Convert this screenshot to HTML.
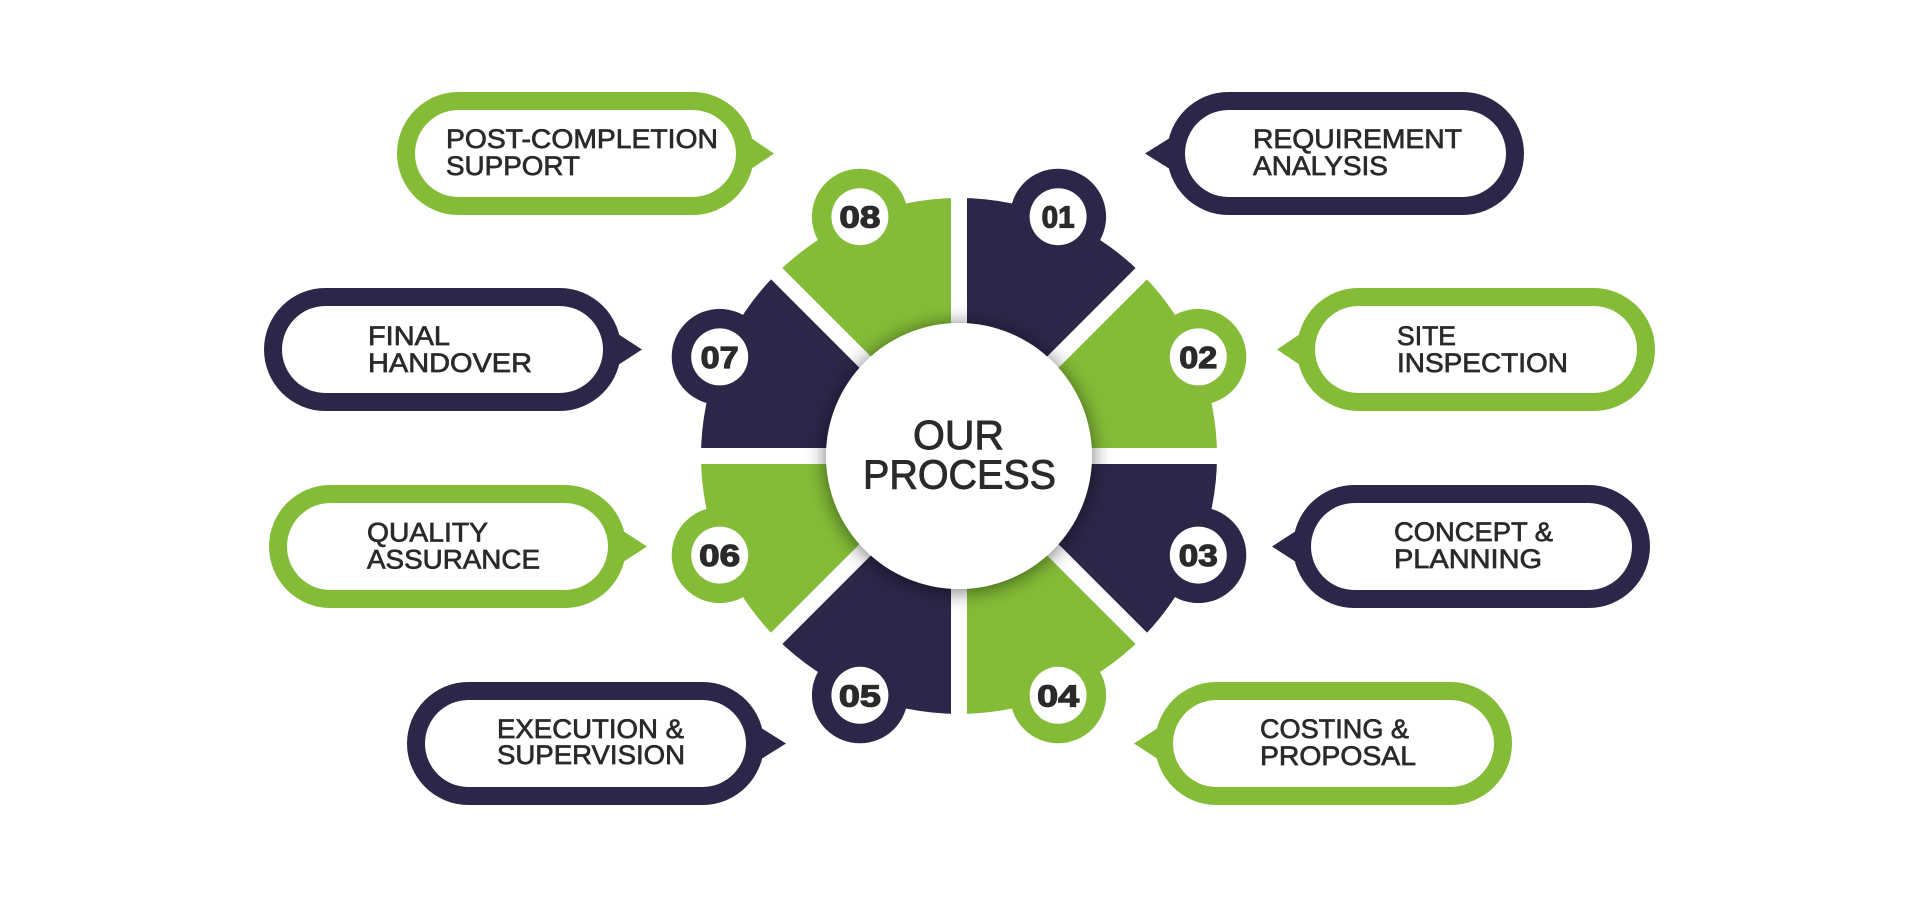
<!DOCTYPE html>
<html>
<head>
<meta charset="utf-8">
<style>
  html, body { margin: 0; padding: 0; background: #ffffff; }
  body { width: 1919px; height: 897px; overflow: hidden; }
  svg { display: block; }
  .lbl { font-family: "Liberation Sans", "DejaVu Sans", sans-serif; font-size: 26.5px; fill: #2a2a2a; stroke: #2a2a2a; stroke-width: 0.7px; }
  .num { font-family: "Liberation Sans", "DejaVu Sans", sans-serif; font-weight: bold; font-size: 31px; fill: #2a2a2a; stroke: #2a2a2a; stroke-width: 1.2px; }
  .title { font-family: "Liberation Sans", "DejaVu Sans", sans-serif; font-size: 41px; fill: #2a2a2a; stroke: #2a2a2a; stroke-width: 0.9px; }
</style>
</head>
<body>
<svg width="1919" height="897" viewBox="0 0 1919 897" xmlns="http://www.w3.org/2000/svg">
  <defs>
    <filter id="sh" x="-30%" y="-30%" width="160%" height="160%">
      <feDropShadow dx="0" dy="2" stdDeviation="10" flood-color="#000" flood-opacity="0.55"/>
    </filter>
  </defs>
  <rect x="0" y="0" width="1919" height="897" fill="#ffffff"/>

  <!-- ===== Bubbles ===== -->
  <!-- Requirement Analysis (navy, pointer left) -->
  <g>
    <rect x="1167" y="92" width="357" height="123" rx="61.5" fill="#2c2649"/>
    <polygon points="1145,153.5 1173,136 1173,171" fill="#2c2649"/>
    <rect x="1185" y="110" width="321" height="87" rx="43.5" fill="#ffffff"/>
    <text class="lbl" x="1253" y="148" textLength="209" lengthAdjust="spacingAndGlyphs">REQUIREMENT</text>
    <text class="lbl" x="1253" y="175" textLength="135" lengthAdjust="spacingAndGlyphs">ANALYSIS</text>
  </g>
  <!-- Site Inspection (green, pointer left) -->
  <g>
    <rect x="1297" y="288" width="358" height="123" rx="61.5" fill="#84bc37"/>
    <polygon points="1277,349.5 1303,332 1303,367" fill="#84bc37"/>
    <rect x="1315" y="306" width="322" height="87" rx="43.5" fill="#ffffff"/>
    <text class="lbl" x="1397" y="345" textLength="59" lengthAdjust="spacingAndGlyphs">SITE</text>
    <text class="lbl" x="1397" y="372" textLength="171" lengthAdjust="spacingAndGlyphs">INSPECTION</text>
  </g>
  <!-- Concept & Planning (navy, pointer left) -->
  <g>
    <rect x="1293" y="485" width="357" height="123" rx="61.5" fill="#2c2649"/>
    <polygon points="1272,546.5 1299,529 1299,564" fill="#2c2649"/>
    <rect x="1311" y="503" width="321" height="87" rx="43.5" fill="#ffffff"/>
    <text class="lbl" x="1394" y="541" textLength="159" lengthAdjust="spacingAndGlyphs">CONCEPT &amp;</text>
    <text class="lbl" x="1394" y="568" textLength="148" lengthAdjust="spacingAndGlyphs">PLANNING</text>
  </g>
  <!-- Costing & Proposal (green, pointer left) -->
  <g>
    <rect x="1155" y="682" width="357" height="123" rx="61.5" fill="#84bc37"/>
    <polygon points="1134,743.5 1161,726 1161,761" fill="#84bc37"/>
    <rect x="1173" y="700" width="321" height="87" rx="43.5" fill="#ffffff"/>
    <text class="lbl" x="1260" y="738" textLength="149" lengthAdjust="spacingAndGlyphs">COSTING &amp;</text>
    <text class="lbl" x="1260" y="765" textLength="156" lengthAdjust="spacingAndGlyphs">PROPOSAL</text>
  </g>
  <!-- Post-Completion Support (green, pointer right) -->
  <g>
    <rect x="397" y="92" width="357" height="123" rx="61.5" fill="#84bc37"/>
    <polygon points="774,153.5 748,136 748,171" fill="#84bc37"/>
    <rect x="415" y="110" width="321" height="87" rx="43.5" fill="#ffffff"/>
    <text class="lbl" x="446" y="148" textLength="272" lengthAdjust="spacingAndGlyphs">POST-COMPLETION</text>
    <text class="lbl" x="446" y="175" textLength="134" lengthAdjust="spacingAndGlyphs">SUPPORT</text>
  </g>
  <!-- Final Handover (navy, pointer right) -->
  <g>
    <rect x="264" y="288" width="357" height="123" rx="61.5" fill="#2c2649"/>
    <polygon points="642,349.5 615,332 615,367" fill="#2c2649"/>
    <rect x="282" y="306" width="321" height="87" rx="43.5" fill="#ffffff"/>
    <text class="lbl" x="368" y="345" textLength="82" lengthAdjust="spacingAndGlyphs">FINAL</text>
    <text class="lbl" x="368" y="372" textLength="164" lengthAdjust="spacingAndGlyphs">HANDOVER</text>
  </g>
  <!-- Quality Assurance (green, pointer right) -->
  <g>
    <rect x="269" y="485" width="357" height="123" rx="61.5" fill="#84bc37"/>
    <polygon points="647,546.5 620,529 620,564" fill="#84bc37"/>
    <rect x="287" y="503" width="321" height="87" rx="43.5" fill="#ffffff"/>
    <text class="lbl" x="367" y="541.5" textLength="121" lengthAdjust="spacingAndGlyphs">QUALITY</text>
    <text class="lbl" x="367" y="568.5" textLength="173" lengthAdjust="spacingAndGlyphs">ASSURANCE</text>
  </g>
  <!-- Execution & Supervision (navy, pointer right) -->
  <g>
    <rect x="407" y="682" width="357" height="123" rx="61.5" fill="#2c2649"/>
    <polygon points="786,743.5 758,726 758,761" fill="#2c2649"/>
    <rect x="425" y="700" width="321" height="87" rx="43.5" fill="#ffffff"/>
    <text class="lbl" x="497" y="738" textLength="187" lengthAdjust="spacingAndGlyphs">EXECUTION &amp;</text>
    <text class="lbl" x="497" y="764" textLength="188" lengthAdjust="spacingAndGlyphs">SUPERVISION</text>
  </g>

  <!-- ===== Ring segments ===== -->
  <path d="M959,456 L959,198 A258,258 0 0 1 1141.43,273.57 Z" fill="#2c2649"/>
  <path d="M959,456 L1141.43,273.57 A258,258 0 0 1 1217,456 Z" fill="#84bc37"/>
  <path d="M959,456 L1217,456 A258,258 0 0 1 1141.43,638.43 Z" fill="#2c2649"/>
  <path d="M959,456 L1141.43,638.43 A258,258 0 0 1 959,714 Z" fill="#84bc37"/>
  <path d="M959,456 L959,714 A258,258 0 0 1 776.57,638.43 Z" fill="#2c2649"/>
  <path d="M959,456 L776.57,638.43 A258,258 0 0 1 701,456 Z" fill="#84bc37"/>
  <path d="M959,456 L701,456 A258,258 0 0 1 776.57,273.57 Z" fill="#2c2649"/>
  <path d="M959,456 L776.57,273.57 A258,258 0 0 1 959,198 Z" fill="#84bc37"/>

  <!-- bumps -->
  <circle cx="1058.1" cy="216.7" r="48" fill="#2c2649"/>
  <circle cx="1198.3" cy="356.9" r="48" fill="#84bc37"/>
  <circle cx="1198.3" cy="555.1" r="48" fill="#2c2649"/>
  <circle cx="1058.1" cy="695.3" r="48" fill="#84bc37"/>
  <circle cx="859.9" cy="695.3" r="48" fill="#2c2649"/>
  <circle cx="719.7" cy="555.1" r="48" fill="#84bc37"/>
  <circle cx="719.7" cy="356.9" r="48" fill="#2c2649"/>
  <circle cx="859.9" cy="216.7" r="48" fill="#84bc37"/>

  <!-- gaps -->
  <g stroke="#ffffff" stroke-width="16">
    <line x1="959" y1="180" x2="959" y2="732"/>
    <line x1="683" y1="456" x2="1235" y2="456"/>
    <line x1="768" y1="265" x2="1150" y2="647"/>
    <line x1="1150" y1="265" x2="768" y2="647"/>
  </g>

  <!-- white number circles -->
  <g fill="#ffffff">
    <circle cx="1058.1" cy="216.7" r="28.5"/>
    <circle cx="1198.3" cy="356.9" r="28.5"/>
    <circle cx="1198.3" cy="555.1" r="28.5"/>
    <circle cx="1058.1" cy="695.3" r="28.5"/>
    <circle cx="859.9" cy="695.3" r="28.5"/>
    <circle cx="719.7" cy="555.1" r="28.5"/>
    <circle cx="719.7" cy="356.9" r="28.5"/>
    <circle cx="859.9" cy="216.7" r="28.5"/>
  </g>
  <g text-anchor="middle">
    <text class="num" x="1058.1" y="227.7" textLength="33" lengthAdjust="spacingAndGlyphs">01</text>
    <text class="num" x="1198.3" y="367.9" textLength="38" lengthAdjust="spacingAndGlyphs">02</text>
    <text class="num" x="1198.3" y="566.1" textLength="39" lengthAdjust="spacingAndGlyphs">03</text>
    <text class="num" x="1058.1" y="706.3" textLength="42" lengthAdjust="spacingAndGlyphs">04</text>
    <text class="num" x="859.9" y="706.3" textLength="42" lengthAdjust="spacingAndGlyphs">05</text>
    <text class="num" x="719.7" y="566.1" textLength="41" lengthAdjust="spacingAndGlyphs">06</text>
    <text class="num" x="719.7" y="367.9" textLength="38" lengthAdjust="spacingAndGlyphs">07</text>
    <text class="num" x="859.9" y="227.7" textLength="41" lengthAdjust="spacingAndGlyphs">08</text>
  </g>

  <!-- center circle -->
  <circle cx="959" cy="456" r="133" fill="#ffffff" filter="url(#sh)"/>
  <text class="title" x="913" y="449" textLength="91" lengthAdjust="spacingAndGlyphs">OUR</text>
  <text class="title" x="863" y="488.5" textLength="193" lengthAdjust="spacingAndGlyphs">PROCESS</text>
</svg>
</body>
</html>
